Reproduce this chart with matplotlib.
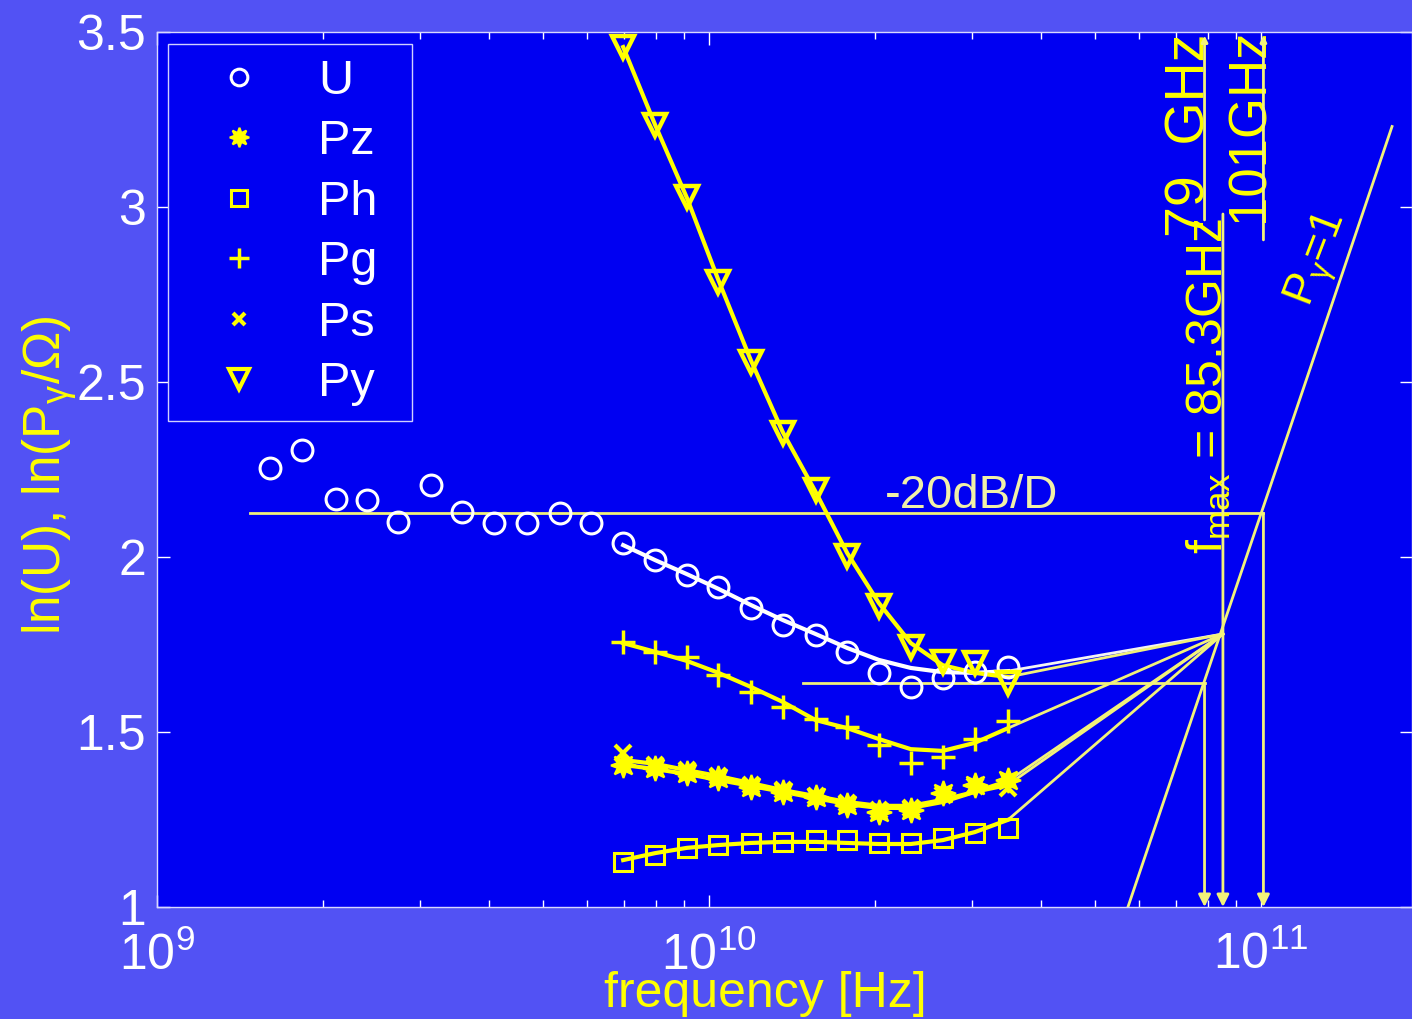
import numpy as np
import matplotlib.pyplot as plt
from matplotlib.lines import Line2D
from matplotlib.ticker import NullFormatter

plt.rcParams['font.family'] = ['Liberation Sans', 'DejaVu Sans']
plt.rcParams['mathtext.fontset'] = 'custom'
plt.rcParams['mathtext.rm'] = 'Liberation Sans'
plt.rcParams['mathtext.it'] = 'Liberation Sans:italic'
plt.rcParams['mathtext.bf'] = 'Liberation Sans:bold'

# measurement frequencies [GHz]
freq_u = [1.6, 1.83, 2.11, 2.4, 2.73, 3.14, 3.57, 4.08, 4.68, 5.37, 6.11, 6.99,
          7.99, 9.12, 10.4, 11.9, 13.6, 15.6, 17.8, 20.3, 23.2, 26.5, 30.3, 34.8]
freq_p = freq_u[11:]

# ln(U) measured and fitted
u_meas = [2.254, 2.306, 2.166, 2.163, 2.100, 2.206, 2.129, 2.097, 2.097, 2.126, 2.097, 2.040,
          1.991, 1.949, 1.914, 1.854, 1.806, 1.777, 1.729, 1.669, 1.629, 1.654, 1.671, 1.686]
u_fit = [2.034, 1.991, 1.951, 1.909, 1.863, 1.820, 1.780, 1.740, 1.706, 1.683, 1.671, 1.669, 1.674]

# ln(P/Omega) for the different power definitions
pz_meas = [1.406, 1.397, 1.383, 1.369, 1.343, 1.329, 1.314, 1.291, 1.271, 1.277, 1.326, 1.349, 1.363]
pz_fit = [1.406, 1.394, 1.380, 1.363, 1.346, 1.329, 1.311, 1.294, 1.283, 1.283, 1.300, 1.329, 1.360]
ph_meas = [1.129, 1.149, 1.169, 1.177, 1.183, 1.186, 1.191, 1.191, 1.183, 1.183, 1.197, 1.211, 1.226]
ph_fit = [1.134, 1.154, 1.169, 1.177, 1.183, 1.186, 1.186, 1.183, 1.180, 1.180, 1.191, 1.214, 1.249]
pg_meas = [1.757, 1.729, 1.714, 1.663, 1.614, 1.571, 1.537, 1.514, 1.463, 1.411, 1.429, 1.480, 1.531]
pg_fit = [1.754, 1.729, 1.703, 1.669, 1.629, 1.586, 1.534, 1.511, 1.480, 1.451, 1.446, 1.469, 1.511]
ps_meas = [1.440, 1.406, 1.391, 1.374, 1.349, 1.334, 1.317, 1.297, 1.277, 1.283, 1.320, 1.346, 1.340]
ps_fit = [1.420, 1.409, 1.391, 1.374, 1.354, 1.334, 1.317, 1.300, 1.289, 1.289, 1.306, 1.329, 1.349]
py_meas = [3.457, 3.234, 3.029, 2.786, 2.557, 2.354, 2.191, 2.003, 1.860, 1.743, 1.700, 1.697, 1.640]
py_fit = [3.457, 3.234, 3.026, 2.791, 2.563, 2.357, 2.186, 2.011, 1.869, 1.754, 1.691, 1.669, 1.657]

# extrapolation / construction lines
f_max = 85.3        # GHz
f_lo = 79.0
f_hi = 101.0
y_conv = 1.78       # all fits meet here at f_max
level_20db = 2.125
level_low = 1.64
level_20db_start = 1.474
level_low_start = 14.8
pg1_freq = [57.4, 172.7]
pg1_val = [1.0, 3.23]

FIG_BG = '#5252F4'
AX_BG = '#0000F2'
YEL = '#FFFF00'
THIN = '#F2F27A'

ghz = lambda f: np.asarray(f) * 1e9

fig = plt.figure(figsize=(14.12, 10.19), dpi=100, facecolor=FIG_BG)
ax = fig.add_axes([157 / 1412, 112 / 1019, 1255 / 1412, 875 / 1019], facecolor=AX_BG)
ax.set_xscale('log')
ax.set_xlim(1e9, 1.877e11)
ax.set_ylim(1, 3.5)

# horizontal reference levels
ax.plot(ghz([level_20db_start, f_hi]), [level_20db, level_20db], color=THIN, lw=2, zorder=2)
ax.plot(ghz([level_low_start, f_lo]), [level_low, level_low], color=THIN, lw=2, zorder=2)

# P_gamma = 1 line
ax.plot(ghz(pg1_freq), pg1_val, color=THIN, lw=2, zorder=2)

# fitted curves and their extension to f_max
fits = [(u_fit, 'white'), (pz_fit, YEL), (ph_fit, YEL), (pg_fit, YEL), (ps_fit, YEL), (py_fit, YEL)]
for fit, col in fits:
    ax.plot(ghz(freq_p), fit, color=col, lw=3, zorder=3)
    ax.plot(ghz([freq_p[-1], f_max]), [fit[-1], y_conv], color=THIN if col == YEL else '#F4F4F4',
            lw=2, zorder=2)

# measured points
ax.plot(ghz(freq_u), u_meas, ls='none', marker='o', mfc='none', mec='white', ms=15, mew=2.2, zorder=5)
ax.plot(ghz(freq_p), pz_meas, ls='none', marker=(8, 1, 0), mfc=YEL, mec=YEL, ms=18, mew=1.5, zorder=5)
ax.plot(ghz(freq_p), ph_meas, ls='none', marker='s', mfc='none', mec=YEL, ms=13, mew=2.2, zorder=5)
ax.plot(ghz(freq_p), pg_meas, ls='none', marker='+', mec=YEL, ms=17, mew=2.5, zorder=5)
ax.plot(ghz(freq_p), ps_meas, ls='none', marker='x', mec=YEL, ms=11, mew=3, zorder=5)
ax.plot(ghz(freq_p), py_meas, ls='none', marker='v', mfc='none', mec=YEL, ms=16, mew=3.2, zorder=5)

# vertical markers with arrows
arrow = dict(arrowstyle='-|>', color=THIN, lw=2, mutation_scale=18, shrinkA=0, shrinkB=0)
arrow_small = dict(arrowstyle='-|>', color=THIN, lw=2, mutation_scale=9, shrinkA=0, shrinkB=0)
ax.annotate('', xy=(ghz(f_max), 1.0), xytext=(ghz(f_max), 2.98), arrowprops=arrow, zorder=4)
ax.annotate('', xy=(ghz(f_lo), 1.0), xytext=(ghz(f_lo), level_low), arrowprops=arrow, zorder=4)
ax.annotate('', xy=(ghz(f_hi), 1.0), xytext=(ghz(f_hi), level_20db), arrowprops=arrow, zorder=4)
ax.annotate('', xy=(ghz(f_lo), 3.49), xytext=(ghz(f_lo), 2.963), arrowprops=arrow_small, zorder=4)
ax.annotate('', xy=(ghz(f_hi), 3.49), xytext=(ghz(f_hi), 2.906), arrowprops=arrow_small, zorder=4)

# labels
ax.text(20.8e9, 2.14, '-20dB/D', color='#F0F0A8', fontsize=34, ha='left', va='baseline')
ax.text(ghz(f_max), 2.01, r'f$_{\mathrm{max}}$ = 85.3GHz', color=YEL, fontsize=36,
        rotation=90, rotation_mode='anchor', ha='left', va='baseline')
ax.text(ghz(f_lo), 2.914, '79  GHz', color=YEL, fontsize=40,
        rotation=90, rotation_mode='anchor', ha='left', va='baseline')
ax.text(ghz(f_hi), 2.957, '101GHz', color=YEL, fontsize=38,
        rotation=90, rotation_mode='anchor', ha='left', va='baseline')
ax.text(127.5e9, 2.85, r'P$_{\mathrm{γ}}$=1', color=YEL, fontsize=32,
        rotation=69, rotation_mode='anchor', ha='center', va='center')

# axes styling
ax.set_yticks([1, 1.5, 2, 2.5, 3, 3.5])
ax.set_yticklabels(['1', '1.5', '2', '2.5', '3', '3.5'])
ax.xaxis.set_minor_formatter(NullFormatter())
ax.tick_params(which='both', direction='in', top=True, right=True, colors='white', labelsize=36)
ax.tick_params(which='major', length=9, width=1)
ax.tick_params(which='minor', length=5, width=1)
ax.tick_params(axis='y', pad=8)
ax.tick_params(axis='x', pad=18)
for sp in ax.spines.values():
    sp.set_color('#D8D8FF')
    sp.set_linewidth(1)

ax.set_xlabel('frequency [Hz]', color=YEL, fontsize=36)
ax.xaxis.set_label_coords(0.4845, -0.073)
ax.set_ylabel(r'ln(U), ln(P$_{\mathrm{γ}}$/Ω)', color=YEL, fontsize=37)
ax.yaxis.set_label_coords(-0.062, 0.494)

# legend
handles = [
    Line2D([], [], ls='none', marker='o', mfc='none', mec='white', ms=12, mew=2.2),
    Line2D([], [], ls='none', marker=(8, 1, 0), mfc=YEL, mec=YEL, ms=14, mew=1.5),
    Line2D([], [], ls='none', marker='s', mfc='none', mec=YEL, ms=11, mew=2.2),
    Line2D([], [], ls='none', marker='+', mec=YEL, ms=15, mew=2.5),
    Line2D([], [], ls='none', marker='x', mec=YEL, ms=9, mew=3),
    Line2D([], [], ls='none', marker='v', mfc='none', mec=YEL, ms=14, mew=3),
]
labels = ['U', 'Pz', 'Ph', 'Pg', 'Ps', 'Py']
leg = ax.legend(handles, labels, loc='upper left', bbox_to_anchor=(0.0088, 0.5589, 0.1944, 0.4274),
                mode='expand', borderaxespad=0, fontsize=35, labelcolor='white',
                frameon=True, fancybox=False, facecolor=AX_BG, edgecolor='#D0D0FF', framealpha=1,
                borderpad=0.3, labelspacing=0.32, handlelength=2.3, handletextpad=0.49)
leg.get_frame().set_linewidth(1)

fig.savefig('out.png', dpi=100, facecolor=fig.get_facecolor())
